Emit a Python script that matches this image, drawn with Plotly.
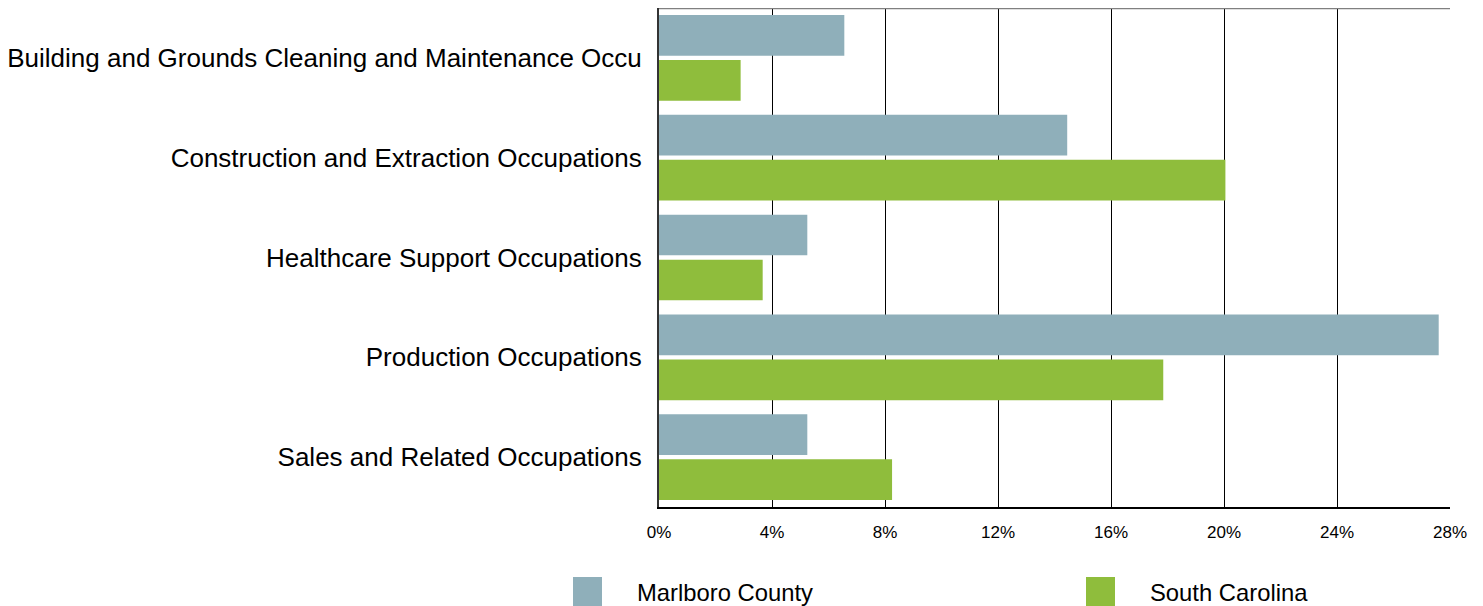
import plotly.graph_objects as go

categories = [
    "Building and Grounds Cleaning and Maintenance Occu",
    "Construction and Extraction Occupations",
    "Healthcare Support Occupations",
    "Production Occupations",
    "Sales and Related Occupations",
]
series_names = ["Marlboro County", "South Carolina"]
marlboro = [6.56, 14.45, 5.25, 27.6, 5.25]
south_carolina = [2.89, 20.05, 3.67, 17.85, 8.25]
x_ticks = [0, 4, 8, 12, 16, 20, 24, 28]
x_tick_labels = ["0%", "4%", "8%", "12%", "16%", "20%", "24%", "28%"]

colors = ["#8FAFBA", "#8FBD3C"]
FONT = "Liberation Sans, Arial, sans-serif"

# page is offset by the body's 8px margin
OFF = 8
W, H = 1475, 598
ml, mr, mt, mb = 651, 33, 0, 99
pw, ph = W - ml - mr, H - mt - mb


def px_x(page_x):
    return (page_x - OFF - ml) / pw


def px_y(page_y):
    return (H - mb - (page_y - OFF)) / ph


fig = go.Figure()
for name, vals, col in zip(series_names, [marlboro, south_carolina], colors):
    fig.add_trace(go.Bar(
        y=categories, x=vals, name=name, orientation="h",
        marker=dict(color=col, line=dict(width=0)),
        showlegend=False,
        hovertemplate="%{y}: %{x:.1f}%<extra>" + name + "</extra>",
    ))

# legend drawn as squares + text
leg_x = [573, 1086]
for name, col, lx in zip(series_names, colors, leg_x):
    fig.add_shape(type="rect", xref="paper", yref="paper",
                  x0=px_x(lx), x1=px_x(lx + 29),
                  y0=px_y(606), y1=px_y(577),
                  fillcolor=col, line=dict(width=0))
    fig.add_annotation(xref="paper", yref="paper", x=px_x(lx + 62),
                       y=px_y(592), text=name, showarrow=False,
                       xanchor="left", yanchor="middle",
                       font=dict(family=FONT, size=23.8, color="#000000"))

fig.update_layout(
    width=W, height=H,
    margin=dict(l=ml, r=mr, t=mt, b=mb, pad=0),
    paper_bgcolor="white", plot_bgcolor="white",
    barmode="group", bargap=0.098, bargroupgap=0.096,
    font=dict(family=FONT, color="#000000"),
    xaxis=dict(
        range=[0, 28], tickvals=x_ticks, ticktext=x_tick_labels,
        showgrid=True, gridcolor="#000000", gridwidth=1,
        zeroline=False, showline=True, linecolor="#000000", linewidth=2,
        mirror=False, ticks="", tickfont=dict(size=17, family=FONT),
        ticklabelstandoff=9, fixedrange=True,
    ),
    yaxis=dict(
        autorange="reversed", showgrid=False, zeroline=False,
        showline=True, linecolor="#333333", linewidth=2,
        ticks="", tickfont=dict(size=26, family=FONT),
        ticklabelstandoff=10, fixedrange=True,
    ),
)
# top border line (gray)
fig.add_shape(type="line", xref="paper", yref="paper", x0=0, x1=1, y0=1, y1=1,
              line=dict(color="#808080", width=2.5))
fig.write_html("out.html")
